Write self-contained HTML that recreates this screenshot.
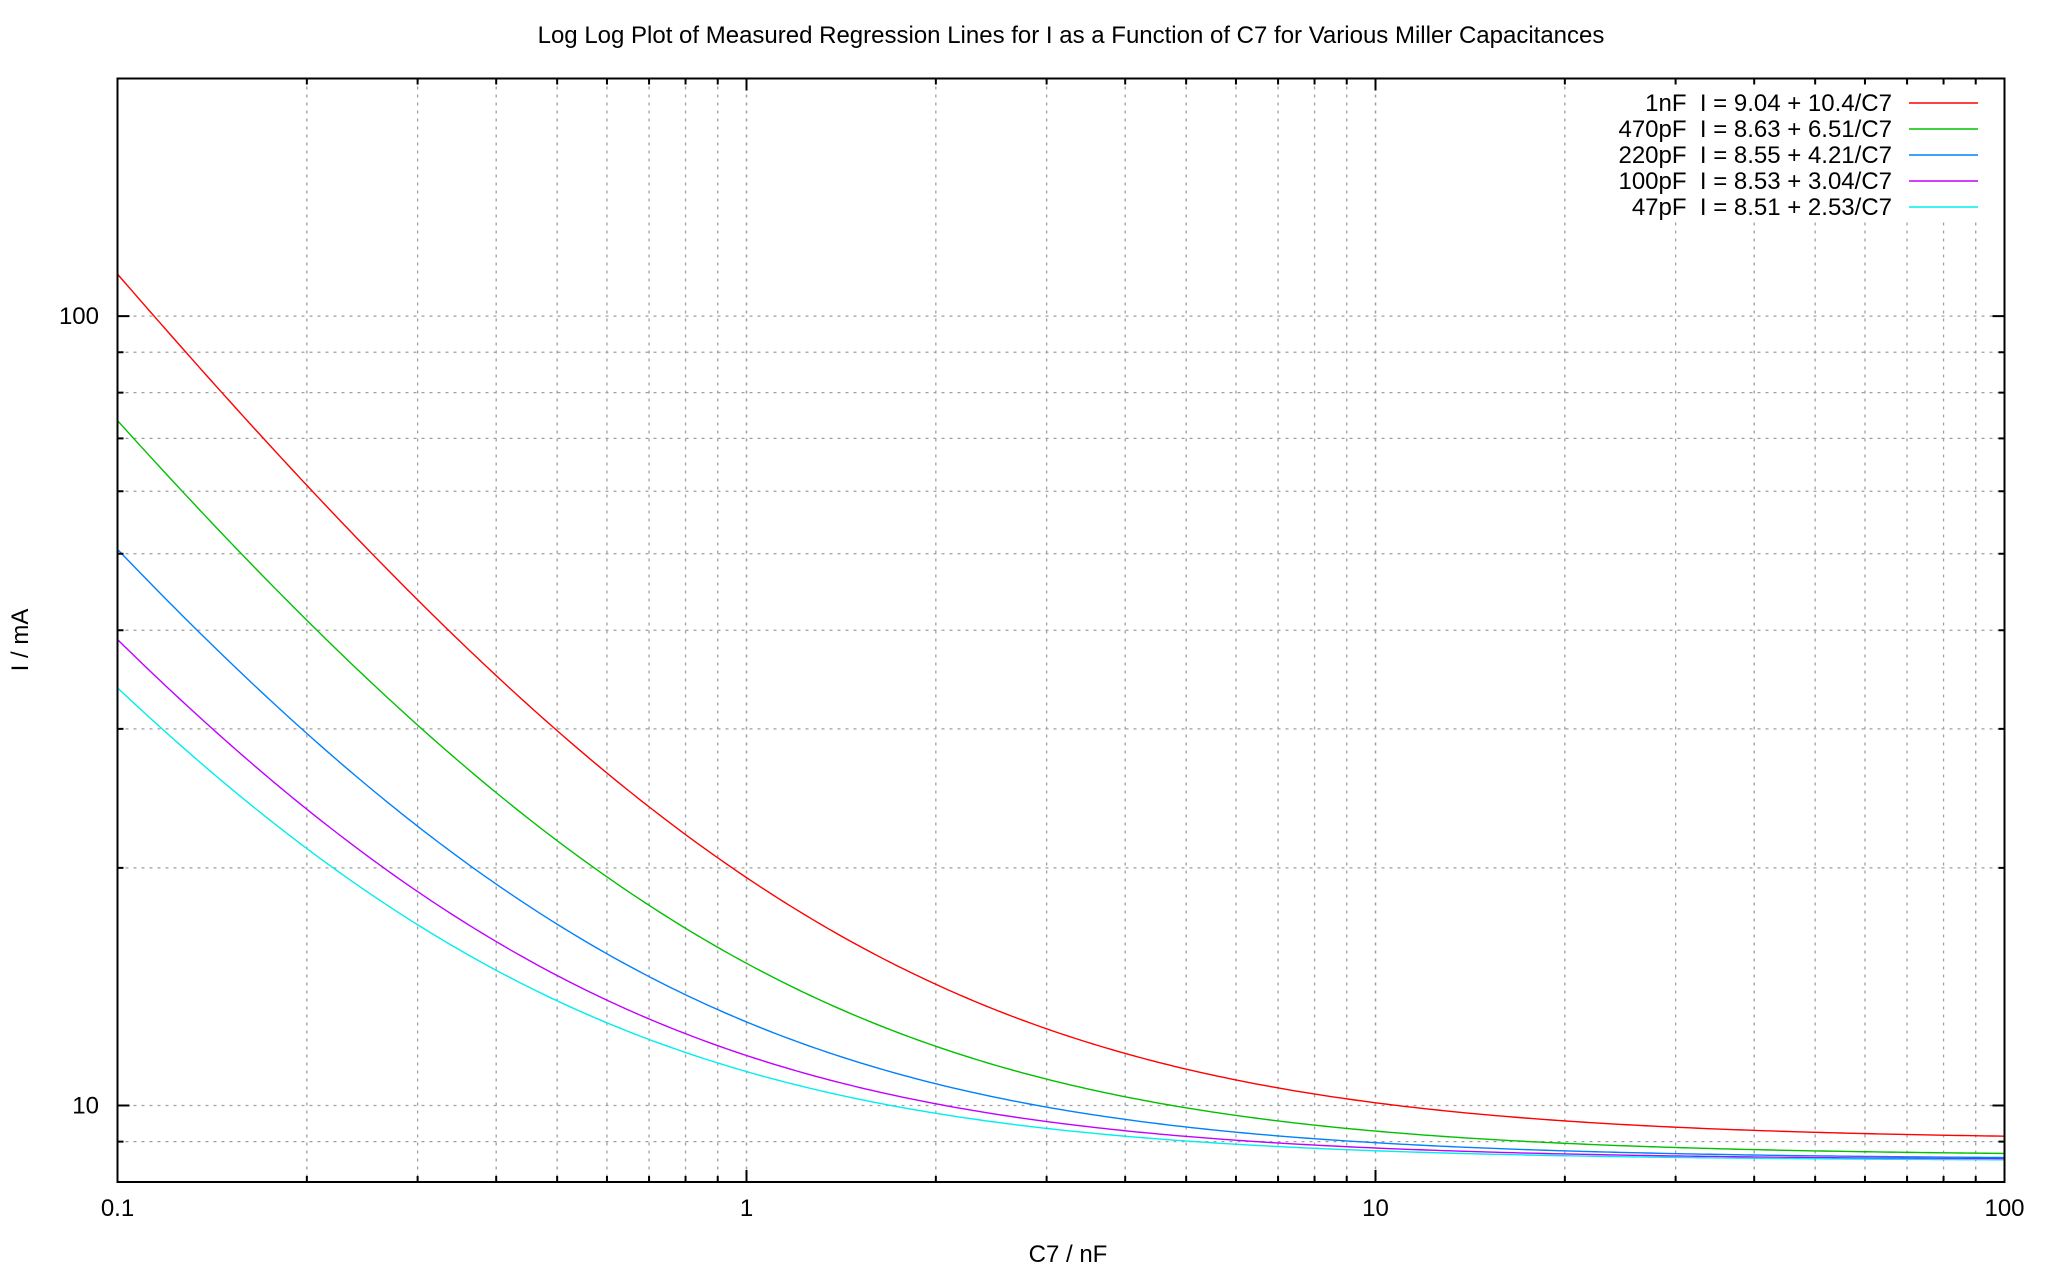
<!DOCTYPE html>
<html><head><meta charset="utf-8"><style>
body{margin:0;background:#fff}
svg{display:block;font-family:"Liberation Sans",sans-serif}
</style></head><body>
<svg id="chart" width="2048" height="1266" viewBox="0 0 2048 1266">
<rect width="2048" height="1266" fill="#fff"/>
<text x="1071" y="43" font-size="24" text-anchor="middle">Log Log Plot of Measured Regression Lines for I as a Function of C7 for Various Miller Capacitances</text>
<g id="grid"></g>
<g id="legend-bg"><rect x="1622" y="86" width="368" height="132" fill="#fff"/></g>
<g id="series"></g>
<g id="legend"></g>
<rect x="117.5" y="78.5" width="1887" height="1103.5" fill="none" stroke="#000" stroke-width="2"/>
<g id="ticks"></g>
<text x="1068" y="1262" font-size="24" text-anchor="middle">C7 / nF</text>
<text transform="translate(28,640) rotate(-90)" font-size="24" text-anchor="middle">I / mA</text>
</svg>
<script>
const seriesNames = ["1nF","470pF","220pF","100pF","47pF"];
const interceptA = [9.04, 8.63, 8.55, 8.53, 8.51];
const slopeB = [10.4, 6.51, 4.21, 3.04, 2.53];
const seriesColors = ["#ff0000","#00c000","#0080ff","#c000ff","#00eeee"];
const xTickLabels = ["0.1","1","10","100"];
const xTickValues = [0.1, 1, 10, 100];
const yTickLabels = ["10","100"];
const yTickValues = [10, 100];
const xMin = 0.1, xMax = 100, yMin = 8, yMax = 200;

const L = 117.5, R = 2004.5, T = 78.5, B = 1182;
const ns = "http://www.w3.org/2000/svg";
function xs(v){return L + (Math.log10(v)-Math.log10(xMin))/(Math.log10(xMax)-Math.log10(xMin))*(R-L);}
function ys(v){return B - (Math.log10(v)-Math.log10(yMin))/(Math.log10(yMax)-Math.log10(yMin))*(B-T);}
function mk(tag, attrs, parent){const e=document.createElementNS(ns,tag);for(const k in attrs)e.setAttribute(k,attrs[k]);parent.appendChild(e);return e;}
const grid=document.getElementById('grid'), ticks=document.getElementById('ticks');

for(let d=-1; d<2; d++){
  for(let m=1; m<=10; m++){
    const v=m*Math.pow(10,d); if(v>xMax) continue;
    const x=xs(v), major=(m===1||m===10);
    if(x>L+1 && x<R-1){
      const g=mk('line',{x1:x,x2:x,y1:T,y2:B,stroke:'#a0a0a0','stroke-width':1.3,'stroke-dasharray':'3,5'},grid);
      
      
    }
    const len=major?12:6;
    const t1=mk('line',{x1:x,x2:x,y1:B,y2:B-len,stroke:'#000','stroke-width':2},ticks);
    
    
    const t2=mk('line',{x1:x,x2:x,y1:T,y2:T+len,stroke:'#000','stroke-width':2},ticks);
    
    
  }
}
xTickValues.forEach((v,i)=>{
  const t=mk('text',{x:xs(v),y:1216,'font-size':24,'text-anchor':'middle'},ticks);
  t.textContent=xTickLabels[i];
  
  
});
for(let d=0; d<3; d++){
  for(let m=1; m<=9; m++){
    const v=m*Math.pow(10,d); if(v<yMin||v>yMax) continue;
    const y=ys(v), major=(m===1);
    if(y>T+1 && y<B-1){
      const g=mk('line',{x1:L,x2:R,y1:y,y2:y,stroke:'#a0a0a0','stroke-width':1.3,'stroke-dasharray':'3,5'},grid);
      
      
    }
    const len=major?12:6;
    const t1=mk('line',{x1:L,x2:L+len,y1:y,y2:y,stroke:'#000','stroke-width':2},ticks);
    
    
    const t2=mk('line',{x1:R,x2:R-len,y1:y,y2:y,stroke:'#000','stroke-width':2},ticks);
    
    
  }
}
yTickValues.forEach((v,i)=>{
  const t=mk('text',{x:99,y:ys(v)+8,'font-size':24,'text-anchor':'end'},ticks);
  t.textContent=yTickLabels[i];
  
  
});
const sg=document.getElementById('series'), lg=document.getElementById('legend');
seriesNames.forEach((n,i)=>{
  let pts=[];
  for(let k=0;k<=300;k++){
    const lx=Math.log10(xMin)+k/300*(Math.log10(xMax)-Math.log10(xMin));
    const c=Math.pow(10,lx);
    const I=interceptA[i]+slopeB[i]/c;
    pts.push(xs(c).toFixed(2)+','+ys(I).toFixed(2));
  }
  const p=mk('polyline',{points:pts.join(' '),fill:'none',stroke:seriesColors[i],'stroke-width':1.4},sg);
  
  
  const y=103+i*26;
  const t=mk('text',{x:1892,y:y+8,'font-size':24,'text-anchor':'end',style:'white-space:pre'},lg);
  t.textContent=n+'  I = '+interceptA[i].toFixed(2)+' + '+slopeB[i]+'/C7';
  
  
  const l=mk('line',{x1:1909,x2:1978,y1:y,y2:y,stroke:seriesColors[i],'stroke-width':1.4},lg);
  
  
});
</script>
</body></html>
